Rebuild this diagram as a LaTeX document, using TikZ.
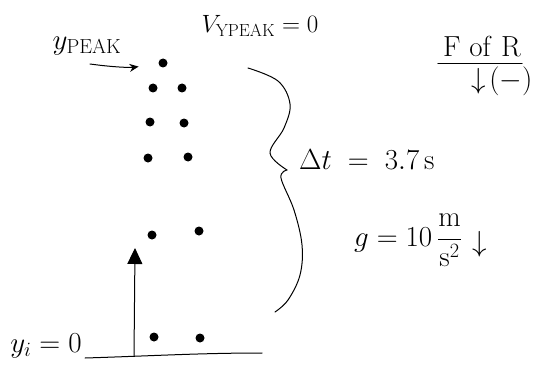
\documentclass[tikz,border=0pt]{standalone}
\usepackage{fix-cm}
\usetikzlibrary{positioning, arrows.meta}
\tikzset{
  hand/.style={font=\fontsize{29}{31}\selectfont, inner sep=1pt},
  note/.style={font=\fontsize{25}{27}\selectfont, inner sep=1pt},
  ball/.style={circle, fill=black, inner sep=0pt, minimum size=9pt},
  pen/.style={line width=1pt, line cap=round},
  arrow/.style={pen, -{Triangle[length=16pt, width=15pt]}},
  pointer/.style={pen, -{Stealth[length=9pt, width=8pt]}},
}
\begin{document}
\begin{tikzpicture}[x=1pt, y=-1pt]
  \useasboundingbox (0,0) rectangle (545,385);

  % labels
  \node[hand] (ypeak) at (87,46) {$y_{\mathrm{PEAK}}$};
  \node[note] (vpeak) at (260,26) {$V_{\mathrm{YPEAK}} = 0$};
  \node[hand] (yi)    at (46,346) {$y_i = 0$};
  \node[hand, anchor=west] (dt) at (298,160) {$\Delta t\;=\;3.7\,\mathrm{s}$};
  \node[hand] (grav)  at (408,240) {$g = 10\,\displaystyle\frac{\mathrm{m}}{\mathrm{s}^2}$};
  \node[hand, right=8pt of grav, yshift=-4pt] (gdir) {$\Big\downarrow$};
  \node[hand] (fofr)  at (482,46) {$\mathrm{F\ of\ R}$};
  \node[hand, below=8pt of fofr, xshift=20pt] (sign) {$\downarrow\!(-)$};

  % positions of the ball
  \node[ball] (b1)  at (163,63)  {};
  \node[ball] (b2)  at (153,88)  {};
  \node[ball] (b3)  at (182,88)  {};
  \node[ball] (b4)  at (150,122) {};
  \node[ball] (b5)  at (184,123) {};
  \node[ball] (b6)  at (148,158) {};
  \node[ball] (b7)  at (188,157) {};
  \node[ball] (b8)  at (152,235) {};
  \node[ball] (b9)  at (199,231) {};
  \node[ball] (b10) at (154,337) {};
  \node[ball] (b11) at (200,338) {};

  \coordinate (tail)  at (90,64);
  \coordinate (gl)    at (85,358);
  \coordinate (gr)    at (262,353);
  \coordinate (base)  at (134,356);
  \coordinate (tip)   at (135,248);

  % ground and launch arrow
  \draw[pen] (gl) .. controls (150,356) and (200,353) .. (gr);
  \draw[arrow] (base) -- (tip);
  \draw[pointer, shorten >=20pt] (tail) to[bend right=8] (b1);

  % underline of F of R
  \draw[pen] ([xshift=-4pt, yshift=-6pt]fofr.south west) -- ([xshift=0pt, yshift=-6pt]fofr.south east);

  % brace over the flight time
  \draw[pen] plot[smooth, tension=0.6] coordinates
    {(248,68) (278,81) (290,104) (284,128) (270,153) (287,170)};
  \draw[pen] plot[smooth, tension=0.6] coordinates
    {(287,170) (281,178) (294,210) (302,245) (300,275) (288,300) (275,312)};

\end{tikzpicture}
\end{document}
